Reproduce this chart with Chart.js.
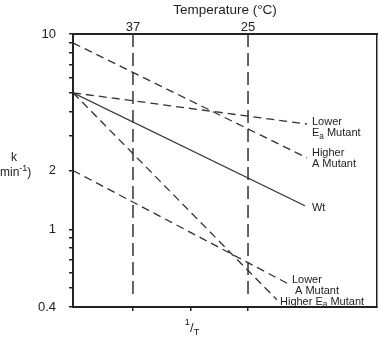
<!DOCTYPE html>
<html>
<head>
<meta charset="utf-8">
<script src="https://cdn.jsdelivr.net/npm/chart.js@4.4.1/dist/chart.umd.min.js"></script>
<style>
  body { margin: 0; background: #fff; }
  canvas { display: block; }
</style>
</head>
<body>
<canvas id="arrhenius" width="382" height="338"></canvas>
<script>
// x values are 1000/T (K^-1), y values are k (min^-1)
var xMin = 3.1566, xMax = 3.4995;
var tempLabels = [37, 25];
var tempTicks = tempLabels.map(function(c){ return 1000 / (c + 273.15); });
var bottomTicks = [tempTicks[0], (tempTicks[0] + tempTicks[1]) / 2, tempTicks[1]];
var yTicks = [0.4, 0.5, 0.6, 0.7, 0.8, 0.9, 1, 2, 3, 4, 5, 6, 7, 8, 9, 10];
var yLabels = [0.4, 1, 2, 10];

var higherAX = [3.1566, 3.4205];
var higherA  = [9.0, 2.32];
var lowerEaX = [3.1566, 3.4205];
var lowerEa  = [5.0, 3.46];
var wtX      = [3.1566, 3.4182];
var wt       = [5.0, 1.32];
var higherEaX = [3.1566, 3.3867];
var higherEa  = [5.0, 0.435];
var lowerAX  = [3.1566, 3.4013];
var lowerA   = [2.0, 0.52];
var markerK  = [10, 0.45];

function pts(xs, ys) {
  return xs.map(function(x, i){ return {x: x, y: ys[i]}; });
}

function dashed(data, w) {
  return { data: data, borderColor: '#333', borderWidth: w || 1.3,
           borderDash: [8, 5], pointRadius: 0, fill: false };
}

var datasets = [
  dashed(pts(higherAX, higherA)),
  dashed(pts(lowerEaX, lowerEa)),
  { data: pts(wtX, wt), borderColor: '#333', borderWidth: 1.3, pointRadius: 0, fill: false },
  dashed(pts(higherEaX, higherEa)),
  dashed(pts(lowerAX, lowerA))
];
tempTicks.forEach(function(t){
  var d = dashed(pts([t, t], markerK), 1.5);
  d.borderDash = [13, 6];
  datasets.push(d);
});

// labels hung off the last point of each series
var lineLabels = [
  { ds: 1, dx: 5, dy: -2, lines: [[['Lower']], [['E'], ['a', 'sub'], [' Mutant']]] },
  { ds: 0, dx: 5, dy: -5, lines: [[['Higher']], [['A Mutant']]] },
  { ds: 2, dx: 7, dy: 2, lines: [[['Wt']]] },
  { ds: 4, dx: 2, dy: -5, lines: [[['Lower']], [[' A Mutant']]] },
  { ds: 3, dx: 3, dy: 2, lines: [[['Higher E'], ['a', 'sub'], [' Mutant']]] }
];

function drawRich(ctx, parts, x, y, size) {
  parts.forEach(function(p){
    var s = p[1] ? size * 0.75 : size;
    var off = p[1] === 'sub' ? size * 0.3 : (p[1] === 'sup' ? -size * 0.4 : 0);
    ctx.font = s + 'px "Liberation Sans"';
    ctx.fillText(p[0], x, y + off);
    x += ctx.measureText(p[0]).width;
  });
}

var textPlugin = {
  id: 'textPlugin',
  afterDraw: function(chart) {
    var ctx = chart.ctx;
    ctx.save();
    ctx.fillStyle = '#222';
    ctx.textBaseline = 'middle';
    ctx.textAlign = 'left';
    lineLabels.forEach(function(l){
      var meta = chart.getDatasetMeta(l.ds);
      var last = meta.data[meta.data.length - 1];
      l.lines.forEach(function(parts, i){
        drawRich(ctx, parts, last.x + l.dx, last.y + l.dy + i * 11, 11);
      });
    });
    // y title
    drawRich(ctx, [['k']], 11, 158, 12);
    drawRich(ctx, [['min'], ['-1', 'sup'], [')']], 0, 173, 12);
    // x title
    var xs = chart.scales.x;
    var cx = xs.getPixelForValue(bottomTicks[1]);
    drawRich(ctx, [['1', 'sup'], ['/'], ['T', 'sub']], cx - 6, 328, 13);
    ctx.restore();
  }
};

var ctx = document.getElementById('arrhenius').getContext('2d');
new Chart(ctx, {
  type: 'line',
  data: { datasets: datasets },
  options: {
    responsive: false,
    animation: false,
    layout: { padding: 0 },
    plugins: { legend: { display: false }, tooltip: { enabled: false } },
    elements: { line: { tension: 0 } },
    scales: {
      x: {
        type: 'linear', position: 'bottom', min: xMin, max: xMax,
        afterBuildTicks: function(s){ s.ticks = bottomTicks.map(function(v){ return {value: v}; }); },
        afterFit: function(s){ s.height = 31; },
        ticks: { callback: function(){ return ''; }, autoSkip: false },
        grid: { drawOnChartArea: false, drawTicks: true, tickLength: 4, color: '#222', lineWidth: 1.5 },
        border: { display: true, color: '#222', width: 2 }
      },
      x2: {
        type: 'linear', position: 'top', min: xMin, max: xMax,
        afterBuildTicks: function(s){ s.ticks = tempTicks.map(function(v){ return {value: v}; }); },
        afterFit: function(s){ s.height = 34; },
        ticks: {
          autoSkip: false, padding: -1, color: '#222',
          font: { family: 'Liberation Sans', size: 13 },
          callback: function(v, i){ return String(tempLabels[i]); }
        },
        grid: { display: false, drawTicks: false },
        border: { display: true, color: '#222', width: 2 },
        title: { display: true, text: 'Temperature (°C)', color: '#222',
                 font: { family: 'Liberation Sans', size: 13.5 }, padding: { top: 2, bottom: 0 } }
      },
      y: {
        type: 'logarithmic', position: 'left', min: 0.4, max: 10,
        afterBuildTicks: function(s){ s.ticks = yTicks.map(function(v){ return {value: v}; }); },
        afterFit: function(s){ s.width = 73; },
        ticks: {
          autoSkip: false, padding: 13, color: '#222',
          font: { family: 'Liberation Sans', size: 13 },
          callback: function(v){ return yLabels.indexOf(v) >= 0 ? String(v) : ''; }
        },
        grid: { drawOnChartArea: false, drawTicks: true, tickLength: 4, color: '#222', lineWidth: 1.5 },
        border: { display: true, color: '#222', width: 2 }
      },
      y2: {
        type: 'linear', position: 'right',
        afterFit: function(s){ s.width = 5; },
        ticks: { display: false },
        grid: { display: false },
        border: { display: true, color: '#222', width: 1.5 }
      }
    }
  },
  plugins: [textPlugin]
});
</script>
</body>
</html>
